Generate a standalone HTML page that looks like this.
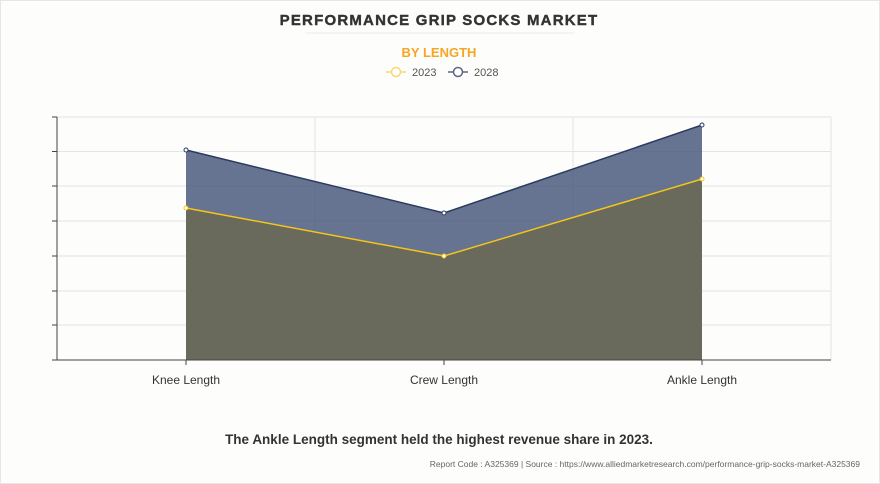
<!DOCTYPE html>
<html><head><style>
body{margin:0;background:#fff;}
.wrap{position:relative;width:880px;height:484px;box-sizing:border-box;border:1px solid #e6e6e6;background:#fdfdfb;font-family:"Liberation Sans",sans-serif;}
</style></head><body><div class="wrap">
<svg width="880" height="484" style="position:absolute;left:-1px;top:-1px" font-family="Liberation Sans, sans-serif">
<text x="439" y="25" text-anchor="middle" font-size="15" font-weight="bold" fill="#333" letter-spacing="1.2" stroke="#333" stroke-width="0.4">PERFORMANCE GRIP SOCKS MARKET</text>
<line x1="305" y1="33" x2="575" y2="33" stroke="#ececec" stroke-width="1"/>
<text x="439" y="57" text-anchor="middle" font-size="13" font-weight="bold" fill="#f5a623">BY LENGTH</text>
<line x1="386" y1="72" x2="406" y2="72" stroke="#f7d774" stroke-width="1.5"/><circle cx="396" cy="72" r="4.5" fill="#fff" stroke="#f7d774" stroke-width="1.5"/>
<text x="412" y="76" font-size="11" fill="#555">2023</text>
<line x1="448" y1="72" x2="468" y2="72" stroke="#5c6684" stroke-width="1.5"/><circle cx="458" cy="72" r="4.5" fill="#fff" stroke="#5c6684" stroke-width="1.5"/>
<text x="474" y="76" font-size="11" fill="#555">2028</text>
<g stroke="#e4e4e4" stroke-width="1">
<line x1="57" y1="117" x2="831" y2="117"/><line x1="57" y1="151.5" x2="831" y2="151.5"/><line x1="57" y1="186" x2="831" y2="186"/><line x1="57" y1="221" x2="831" y2="221"/><line x1="57" y1="256" x2="831" y2="256"/><line x1="57" y1="291" x2="831" y2="291"/><line x1="57" y1="325" x2="831" y2="325"/>
<line x1="315" y1="117" x2="315" y2="360"/><line x1="573" y1="117" x2="573" y2="360"/><line x1="831" y1="117" x2="831" y2="360"/>
</g>
<polygon points="186,150 444,213 702,125 702,360 186,360" fill="#4b5a7e" fill-opacity="0.85"/>
<polygon points="186,208 444,256 702,179 702,360 186,360" fill="#6a6a5c"/>
<polyline points="186,150 444,213 702,125" fill="none" stroke="#2c3a5e" stroke-width="1.5"/>
<polyline points="186,208 444,256 702,179" fill="none" stroke="#f5c518" stroke-width="1.5"/>
<g fill="#fff" stroke-width="1"><circle cx="186" cy="150" r="2" stroke="#2c3a5e"/><circle cx="444" cy="213" r="2" stroke="#2c3a5e"/><circle cx="702" cy="125" r="2" stroke="#2c3a5e"/>
<circle cx="186" cy="208" r="2" stroke="#f5c518"/><circle cx="444" cy="256" r="2" stroke="#f5c518"/><circle cx="702" cy="179" r="2" stroke="#f5c518"/></g>
<g stroke="#444" stroke-width="1">
<line x1="57" y1="117" x2="57" y2="360"/><line x1="57" y1="360" x2="831" y2="360"/>
<line x1="52" y1="117" x2="57" y2="117"/><line x1="52" y1="151.5" x2="57" y2="151.5"/><line x1="52" y1="186" x2="57" y2="186"/><line x1="52" y1="221" x2="57" y2="221"/><line x1="52" y1="256" x2="57" y2="256"/><line x1="52" y1="291" x2="57" y2="291"/><line x1="52" y1="325" x2="57" y2="325"/><line x1="52" y1="360" x2="57" y2="360"/>
<line x1="186" y1="360" x2="186" y2="365"/><line x1="444" y1="360" x2="444" y2="365"/><line x1="702" y1="360" x2="702" y2="365"/>
</g>
<g font-size="12" fill="#333" text-anchor="middle"><text x="186" y="384">Knee Length</text><text x="444" y="384">Crew Length</text><text x="702" y="384">Ankle Length</text></g>
<text x="439" y="444" text-anchor="middle" font-size="13.5" font-weight="bold" fill="#333">The Ankle Length segment held the highest revenue share in 2023.</text>
<text x="860" y="467" text-anchor="end" font-size="8.5" fill="#666">Report Code : A325369  |  Source : https://www.alliedmarketresearch.com/performance-grip-socks-market-A325369</text>
</svg></div></body></html>
